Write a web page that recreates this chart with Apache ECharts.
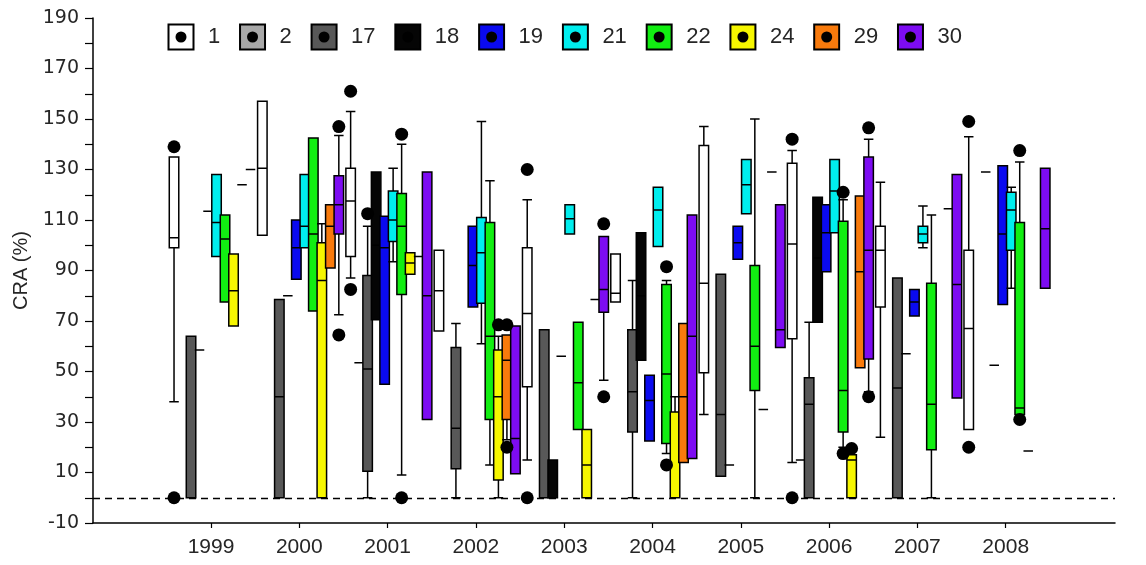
<!DOCTYPE html>
<html>
<head>
<meta charset="utf-8">
<title>CRA (%) by year</title>
<script src="https://cdn.jsdelivr.net/npm/echarts@6/dist/echarts.min.js"></script>
<style>
  html, body { margin: 0; padding: 0; background: #fff; }
  #chart { width: 1146px; height: 565px; }
</style>
</head>
<body>
<div id="chart"></div>
<script>
// CRA (%) box plots per station and year

const years = [1999, 2000, 2001, 2002, 2003, 2004, 2005, 2006, 2007, 2008]
const yTicks = [-10, 0, 10, 20, 30, 40, 50, 60, 70, 80, 90, 100, 110, 120, 130, 140, 150, 160, 170, 180, 190]
const yLabels = [-10, 10, 30, 50, 70, 90, 110, 130, 150, 170, 190]
const stations = ['1', '2', '17', '18', '19', '21', '22', '24', '29', '30']

// rows: [year, low whisker, Q1, median, Q3, high whisker] or [year, single value]
const box1 = [
  [1999, 38, 99, 103, 135, 135],
  [2000, 104, 104, 130.5, 157, 157],
  [2001, 87, 95.5, 117.5, 130.5, 153],
  [2002, 66, 66, 82, 98, 98],
  [2003, 15, 44, 73, 99, 118],
  [2004, 77.5, 77.5, 81, 96.5, 96.5],
  [2005, 33, 49.5, 85, 139.5, 147],
  [2006, 14, 63, 100.5, 132.5, 137.5],
  [2007, 24, 75.5, 98, 107.5, 125],
  [2008, 27, 27, 67, 98, 143],
]
const box2 = [
  [2001, 53.5],
  [2006, 15],
]
const box17 = [
  [1999, 0, 0, 0, 64, 64],
  [2000, 0, 0, 40, 78.5, 78.5],
  [2001, 0, 10.5, 51, 88, 107.5],
  [2002, 0, 11.5, 27.5, 59.5, 69],
  [2003, 0, 0, 0, 66.5, 66.5],
  [2004, 0, 26, 42, 66.5, 86],
  [2005, 8.5, 8.5, 33, 88.5, 88.5],
  [2006, 0, 0, 37, 47.5, 69.5],
  [2007, 0, 0, 43.5, 87, 87],
  [2008, 129],
]
const box18 = [
  [1999, 58.5],
  [2000, 80],
  [2001, 70.5, 70.5, 100, 129, 129],
  [2003, 0, 0, 0, 15, 15],
  [2004, 54.5, 54.5, 80, 105, 105],
  [2005, 13],
  [2006, 69.5, 69.5, 95, 119, 119],
  [2007, 57],
  [2008, 52.5],
]
const box19 = [
  [1999, 113.5],
  [2000, 86.5, 86.5, 99, 110, 110],
  [2001, 45, 45, 99, 111.5, 111.5],
  [2002, 75.5, 75.5, 92, 107.5, 107.5],
  [2003, 56],
  [2004, 22.5, 22.5, 38.5, 48.5, 48.5],
  [2005, 94.5, 94.5, 101, 107.5, 107.5],
  [2006, 89.5, 89.5, 105, 116, 116],
  [2007, 72, 72, 77.5, 82.5, 82.5],
  [2008, 76.5, 76.5, 104.5, 131.5, 131.5],
]
const box21 = [
  [1999, 95.5, 95.5, 109, 128, 128],
  [2000, 99, 99, 107.5, 128, 128],
  [2001, 93.5, 101.5, 110, 121.5, 130.5],
  [2002, 61, 77, 97, 111, 149],
  [2003, 104.5, 104.5, 110.5, 116, 116],
  [2004, 99.5, 99.5, 114, 123, 123],
  [2005, 112.5, 112.5, 124, 134, 134],
  [2006, 105, 105, 121.5, 134, 134],
  [2007, 99, 101, 104.5, 107.5, 115.5],
  [2008, 83, 98, 114, 121, 123],
]
const box22 = [
  [1999, 77.5, 77.5, 102.5, 112, 112],
  [2000, 74, 74, 104.5, 142.5, 142.5],
  [2001, 9, 80.5, 107.5, 120.5, 140],
  [2002, 13, 31, 64, 109, 125.5],
  [2003, 27, 27, 45.5, 69.5, 69.5],
  [2004, 17.5, 21.5, 49, 84.5, 86],
  [2005, 0, 42.5, 60, 92, 150],
  [2006, 20, 26, 42.5, 109.5, 118],
  [2007, 0, 19, 37, 85, 112],
  [2008, 33, 33, 35.5, 109, 133],
]
const box24 = [
  [1999, 68, 68, 82, 96.5, 96.5],
  [2000, 0, 0, 86, 101, 108.5],
  [2001, 88.5, 88.5, 93, 97, 97],
  [2002, 0, 7, 40, 58.5, 64],
  [2003, 0, 0, 13, 27, 27],
  [2004, 0, 0, 0, 34, 40],
  [2005, 35],
  [2006, 0, 0, 15, 17, 17],
  [2008, 18.5],
]
const box29 = [
  [1999, 124],
  [2000, 91, 91, 107.5, 116, 116],
  [2001, 95.5],
  [2002, 23, 31, 54.5, 64.5, 64.5],
  [2003, 78.5],
  [2004, 14, 14, 40, 69, 69],
  [2005, 129],
  [2006, 51.5, 51.5, 89.5, 119.5, 119.5],
  [2007, 114.5],
]
const box30 = [
  [1999, 130],
  [2000, 72.5, 104.5, 116, 127.5, 143.5],
  [2001, 31, 31, 80, 129, 129],
  [2002, 9.5, 9.5, 23.5, 68, 68],
  [2003, 46.5, 73.5, 82.5, 103.5, 103.5],
  [2004, 15.5, 15.5, 64, 112, 112],
  [2005, 59.5, 59.5, 66.5, 116, 116],
  [2006, 42, 55, 98, 135, 142],
  [2007, 39.5, 39.5, 84.5, 128, 128],
  [2008, 83, 83, 106.5, 130.5, 130.5],
]

// outliers: [year, value]
const out1 = [[1999, 139], [1999, 0], [2001, 161], [2001, 82.5], [2003, 130], [2003, 0], [2006, 142], [2006, 0], [2008, 149], [2008, 20]]
const out2 = []
const out17 = [[2001, 112.5]]
const out18 = []
const out19 = []
const out21 = []
const out22 = [[2001, 144], [2001, 0], [2004, 91.5], [2004, 13], [2006, 121], [2006, 17.5], [2008, 137.5], [2008, 31]]
const out24 = [[2002, 68.5], [2006, 19.5]]
const out29 = [[2002, 68.5], [2002, 20]]
const out30 = [[2000, 147], [2000, 64.5], [2003, 108.5], [2003, 40], [2006, 146.5], [2006, 40]]

const boxes = [box1, box2, box17, box18, box19, box21, box22, box24, box29, box30]
const outliers = [out1, out2, out17, out18, out19, out21, out22, out24, out29, out30]

const colors = ['#ffffff', '#a8a8a8', '#585858', '#050505', '#0a0af0', '#00eeee', '#12ee12', '#f6f600', '#f87a0c', '#7d0cf2']

// year slot is split into ten positions, one per station
const slotStep = 8.5 / 88.3
const slotX = (year, slot) => year + (slot - 4.35) * slotStep
const xMin = 1999 - 118 / 88.3
const xMax = 1999 + 904 / 88.3

function legendIcon(color) {
  const svg = `<svg xmlns="http://www.w3.org/2000/svg" width="28" height="28">`
    + `<rect x="1.5" y="1.5" width="25" height="25" fill="${color}" stroke="#000" stroke-width="2"/>`
    + `<circle cx="14" cy="14" r="5.5" fill="#000"/></svg>`
  return 'image://data:image/svg+xml;charset=utf-8,' + encodeURIComponent(svg)
}

const textColor = '#262626'
const font = 'Liberation Sans'

const xAxes = stations.map((s, i) => ({
  type: 'value',
  min: xMin,
  max: xMax,
  show: i === 0,
  axisLine: { show: true, onZero: false, lineStyle: { color: '#000', width: 1.5 } },
  axisTick: { show: true, customValues: years, length: 5, lineStyle: { color: '#000', width: 1.2 } },
  axisLabel: {
    customValues: years,
    formatter: (v) => String(v),
    fontSize: 21,
    fontFamily: font,
    color: textColor,
    margin: 14,
  },
  splitLine: { show: false },
}))

const boxSeries = stations.map((name, i) => ({
  type: 'boxplot',
  name,
  xAxisIndex: i,
  yAxisIndex: 0,
  boxWidth: [9.5, 9.5],
  silent: true,
  itemStyle: { color: colors[i], borderColor: '#000', borderWidth: 1.5 },
  emphasis: { disabled: true },
  data: boxes[i].map((r) => {
    const x = slotX(r[0], i)
    return r.length === 2 ? [x, r[1], r[1], r[1], r[1], r[1]] : [x, r[1], r[2], r[3], r[4], r[5]]
  }),
}))

const outlierData = []
outliers.forEach((list, i) => {
  list.forEach((p) => outlierData.push([slotX(p[0], i), p[1]]))
})

const chart = echarts.init(document.getElementById('chart'))

chart.setOption({
  animation: false,
  backgroundColor: '#fff',
  grid: { left: 93, right: 31, top: 18, bottom: 42 },
  legend: {
    left: 162,
    top: 18,
    itemWidth: 28,
    itemHeight: 28,
    itemGap: 18.3,
    selectedMode: false,
    textStyle: { fontSize: 22, fontFamily: font, color: textColor, padding: [0, 0, 0, 8] },
    data: stations.map((name, i) => ({ name, icon: legendIcon(colors[i]) })),
  },
  xAxis: xAxes,
  yAxis: {
    type: 'value',
    min: -10,
    max: 190,
    name: 'CRA (%)',
    nameLocation: 'middle',
    nameGap: 62,
    nameRotate: 90,
    nameTextStyle: { fontSize: 20, fontFamily: font, color: textColor },
    axisLine: { show: true, lineStyle: { color: '#000', width: 1.5 } },
    axisTick: { show: true, customValues: yTicks, length: 8, lineStyle: { color: '#000', width: 1.2 } },
    axisLabel: { customValues: yLabels, fontSize: 19, fontFamily: 'DejaVu Sans', color: textColor, margin: 14 },
    splitLine: { show: false },
  },
  series: [
    ...boxSeries,
    {
      type: 'scatter',
      name: 'outliers',
      xAxisIndex: 0,
      yAxisIndex: 0,
      symbol: 'circle',
      symbolSize: 13,
      silent: true,
      z: 5,
      itemStyle: { color: '#000', opacity: 1 },
      data: outlierData,
      markLine: {
        silent: true,
        symbol: 'none',
        label: { show: false },
        lineStyle: { color: '#000', type: [7, 5], width: 1.3 },
        data: [{ yAxis: 0 }],
      },
    },
  ],
})
</script>
</body>
</html>
